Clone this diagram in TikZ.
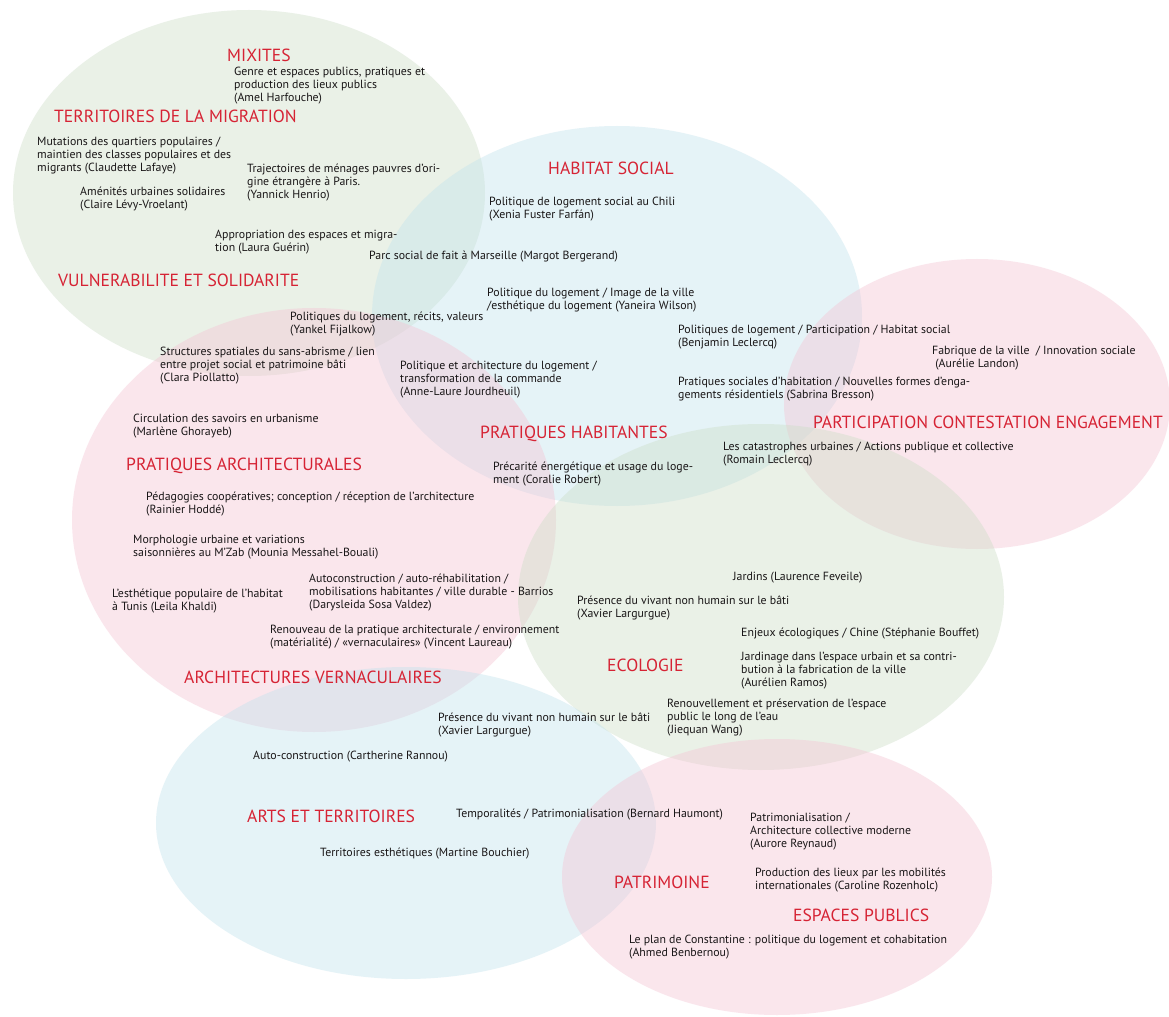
\documentclass[tikz,border=0pt]{standalone}
\usepackage{fontspec}
\setmainfont{PT Sans}

\definecolor{themered}{RGB}{214,35,52}
\definecolor{talkgray}{RGB}{25,22,23}
\definecolor{zonegreen}{RGB}{205,222,200}
\definecolor{zoneblue}{RGB}{192,226,236}
\definecolor{zonepink}{RGB}{245,196,212}

\tikzset{
  theme/.style={anchor=west, inner sep=0pt, text=themered, font=\fontsize{15}{17}\selectfont},
  talk/.style={anchor=north west, inner sep=0pt, align=left, text=talkgray, font=\fontsize{10.1}{11}\selectfont},
  greenzone/.style={fill=zonegreen, fill opacity=0.42},
  bluezone/.style={fill=zoneblue, fill opacity=0.4},
  pinkzone/.style={fill=zonepink, fill opacity=0.42}
}

\begin{document}
\begin{tikzpicture}[x=0.03cm,y=-0.03cm]
\useasboundingbox (0,0) rectangle (1169,1017);
\fill[white] (0,0) rectangle (1169,1017);

\fill[greenzone] (249,193) ellipse [x radius=236, y radius=183];
\fill[bluezone] (617,316) ellipse [x radius=245, y radius=190];
\fill[pinkzone] (314,520) ellipse [x radius=242, y radius=212];
\fill[pinkzone] (977,404) ellipse [x radius=193, y radius=145];
\fill[greenzone] (761,597) ellipse [x radius=243, y radius=173];
\fill[bluezone] (406,823) ellipse [x radius=250, y radius=156];
\fill[pinkzone] (777,877) ellipse [x radius=215, y radius=138];

\node[theme] (mixites) at (227,55) {MIXITES};
\node[talk] (genre) at (234,67) {Genre et espaces publics, pratiques et\\production des lieux publics\\(Amel Harfouche)};
\node[theme] (migration) at (54,116) {TERRITOIRES DE LA MIGRATION};
\node[talk] (mutations) at (37,137) {Mutations des quartiers populaires /\\maintien des classes populaires et des\\migrants (Claudette Lafaye)};
\node[talk] (amenites) at (80,187) {Aménités urbaines solidaires\\(Claire Lévy-Vroelant)};
\node[talk] (trajectoires) at (247,164) {Trajectoires de ménages pauvres d’ori-\\gine étrangère à Paris.\\(Yannick Henrio)};
\node[talk] (appropriation) at (215,230) {Appropriation des espaces et migra-\\tion (Laura Guérin)};
\node[theme] (vulnerabilite) at (58,280) {VULNERABILITE ET SOLIDARITE};

\node[theme] (habitat) at (548,168) {HABITAT SOCIAL};
\node[talk] (chili) at (489,197) {Politique de logement social au Chili\\(Xenia Fuster Farfán)};
\node[talk] (marseille) at (369,251) {Parc social de fait à Marseille (Margot Bergerand)};
\node[talk] (imageville) at (487,288) {Politique du logement / Image de la ville\\/esthétique du logement (Yaneira Wilson)};
\node[talk] (recits) at (290,312) {Politiques du logement, récits, valeurs\\(Yankel Fijalkow)};
\node[talk] (sansabri) at (160,347) {Structures spatiales du sans-abrisme / lien\\entre projet social et patrimoine bâti\\(Clara Piollatto)};
\node[talk] (commande) at (400,361) {Politique et architecture du logement /\\transformation de la commande\\(Anne-Laure Jourdheuil)};

\node[talk] (participation) at (678,325) {Politiques de logement / Participation / Habitat social\\(Benjamin Leclercq)};
\node[talk] (fabrique) at (932,346) {Fabrique de la ville~~/ Innovation sociale\\~(Aurélie Landon)};
\node[talk] (pratsociales) at (678,377) {Pratiques sociales d’habitation / Nouvelles formes d’enga-\\gements résidentiels (Sabrina Bresson)};
\node[theme] (engagement) at (813,422) {PARTICIPATION CONTESTATION ENGAGEMENT};
\node[talk] (catastrophes) at (723,442) {Les catastrophes urbaines / Actions publique et collective\\(Romain Leclercq)};

\node[talk] (circulation) at (133,414) {Circulation des savoirs en urbanisme\\(Marlène Ghorayeb)};
\node[theme] (prathab) at (480,434) {PRATIQUES HABITANTES};
\node[talk] (precarite) at (493,462) {Précarité énergétique et usage du loge-\\ment (Coralie Robert)};
\node[theme] (pratarch) at (126,466) {PRATIQUES ARCHITECTURALES};
\node[talk] (pedagogies) at (146,492) {Pédagogies coopératives; conception / réception de l’architecture\\(Rainier Hoddé)};
\node[talk] (morphologie) at (133,535) {Morphologie urbaine et variations\\saisonnières au M’Zab (Mounia Messahel-Bouali)};
\node[talk] (autoconstr) at (309,574) {Autoconstruction / auto-réhabilitation /\\mobilisations habitantes / ville durable - Barrios\\(Darysleida Sosa Valdez)};
\node[talk] (tunis) at (112,589) {L’esthétique populaire de l’habitat\\à Tunis (Leila Khaldi)};
\node[talk] (renouveau) at (270,625) {Renouveau de la pratique architecturale / environnement\\(matérialité) / «vernaculaires» (Vincent Laureau)};
\node[theme] (vernac) at (184,677) {ARCHITECTURES VERNACULAIRES};

\node[talk] (jardins) at (733,572) {Jardins (Laurence Feveile)};
\node[talk] (vivanta) at (577,596) {Présence du vivant non humain sur le bâti\\(Xavier Largurgue)};
\node[talk] (enjeux) at (741,628) {Enjeux écologiques / Chine (Stéphanie Bouffet)};
\node[theme] (ecologie) at (607,665) {ECOLOGIE};
\node[talk] (jardinage) at (741,652) {Jardinage dans l’espace urbain et sa contri-\\bution à la fabrication de la ville\\(Aurélien Ramos)};
\node[talk] (renouvellement) at (667,699) {Renouvellement et préservation de l’espace\\public le long de l’eau\\(Jiequan Wang)};
\node[talk] (vivantb) at (438,713) {Présence du vivant non humain sur le bâti\\(Xavier Largurgue)};

\node[talk] (autoconstrb) at (253,751) {Auto-construction (Cartherine Rannou)};
\node[theme] (arts) at (247,816) {ARTS ET TERRITOIRES};
\node[talk] (temporalites) at (456,809) {Temporalités / Patrimonialisation (Bernard Haumont)};
\node[talk] (esthetiques) at (320,848) {Territoires esthétiques (Martine Bouchier)};

\node[talk] (patrimonialisation) at (750,813) {Patrimonialisation /\\Architecture collective moderne\\(Aurore Reynaud)};
\node[theme] (patrimoine) at (614,882) {PATRIMOINE};
\node[talk] (production) at (755,868) {Production des lieux par les mobilités\\internationales (Caroline Rozenholc)};
\node[theme] (espaces) at (793,915) {ESPACES PUBLICS};
\node[talk] (constantine) at (629,935) {Le plan de Constantine : politique du logement et cohabitation\\(Ahmed Benbernou)};
\end{tikzpicture}
\end{document}
